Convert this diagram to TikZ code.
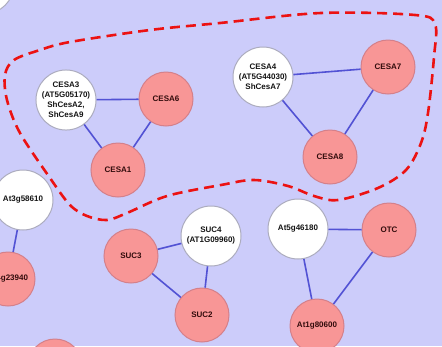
\documentclass[tikz,border=0pt]{standalone}
\usepackage{fontspec}
\setmainfont{Liberation Sans}

\definecolor{netbg}{RGB}{204,204,250}
\definecolor{edgeblue}{RGB}{82,82,212}
\definecolor{pinkfill}{RGB}{248,150,150}
\definecolor{pinkedge}{RGB}{212,128,138}
\definecolor{whiteedge}{RGB}{172,172,190}
\definecolor{hittext}{RGB}{50,12,12}
\definecolor{groupred}{RGB}{236,18,18}

\begin{document}
\begin{tikzpicture}[x=1pt,y=-1pt,
		gene/.style={circle, draw=whiteedge, line width=1pt, fill=white,
			minimum size=60pt, inner sep=0pt, align=center,
			font=\fontsize{8}{10}\selectfont\bfseries, text=black!92},
		hit/.style={gene, draw=pinkedge, fill=pinkfill, minimum size=54pt, text=hittext},
		link/.style={draw=edgeblue, line width=1.6pt}]
		% canvas
		\useasboundingbox (0,0) rectangle (442,346);
		\clip (0,0) rectangle (442,346);
		\fill[netbg] (0,0) rectangle (442,346);
		
		% cellulose synthase group
		\draw[groupred, line width=2.6pt, dash pattern=on 10pt off 6pt]
			plot[smooth cycle, tension=0.55] coordinates {
			(5,75) (14,60) (40,50) (70,42) (150,30) (220,23) (321,13) (415,15)
			(435,24) (434,57) (428,113) (421,143) (406,170) (378,188) (338,200)
			(314,196) (288,186) (254,180) (221,185) (167,196) (127,213) (107,220)
			(87,216) (70,205) (50,178) (20,133) (7,100)};
		
		% first triangle
		\node[gene] (cesa3) at (66,100) {CESA3\\(AT5G05170)\\ShCesA2,\\ShCesA9};
		\node[hit] (cesa6) at (166,99) {CESA6};
		\node[hit] (cesa1) at (118,170) {CESA1};
		
		% second triangle
		\node[gene] (cesa4) at (263,77) {CESA4\\(AT5G44030)\\ShCesA7};
		\node[hit] (cesa7) at (388,67) {CESA7};
		\node[hit] (cesa8) at (330,157) {CESA8};
		
		% sucrose transporters
		\node[gene] (suc4) at (211,236) {SUC4\\(AT1G09960)};
		\node[hit] (suc3) at (131,256) {SUC3};
		\node[hit] (suc2) at (202,315) {SUC2};
		
		% OTC triangle
		\node[gene] (at5g) at (298,229) {At5g46180};
		\node[hit] (otc) at (389,230) {OTC};
		\node[hit] (at1g) at (317,326) {At1g80600};
		
		% pair on the left edge
		\node[gene] (at3g) at (23,200) {At3g58610};
		\node[hit] (at4g) at (8,279) {At4g23940};
		
		% cut off at the borders
		\node[gene] (corner) at (-16,-16) {};
		\node[hit] (lower) at (55,366) {};
		
		% interactions
		\foreach \a/\b in {cesa3/cesa6, cesa3/cesa1, cesa6/cesa1,
			cesa4/cesa7, cesa4/cesa8, cesa7/cesa8,
			suc3/suc4, suc3/suc2, suc4/suc2,
			at5g/otc, at5g/at1g, otc/at1g, at3g/at4g}{
			\draw[link] (\a) -- (\b);
		}
\end{tikzpicture}
\end{document}
